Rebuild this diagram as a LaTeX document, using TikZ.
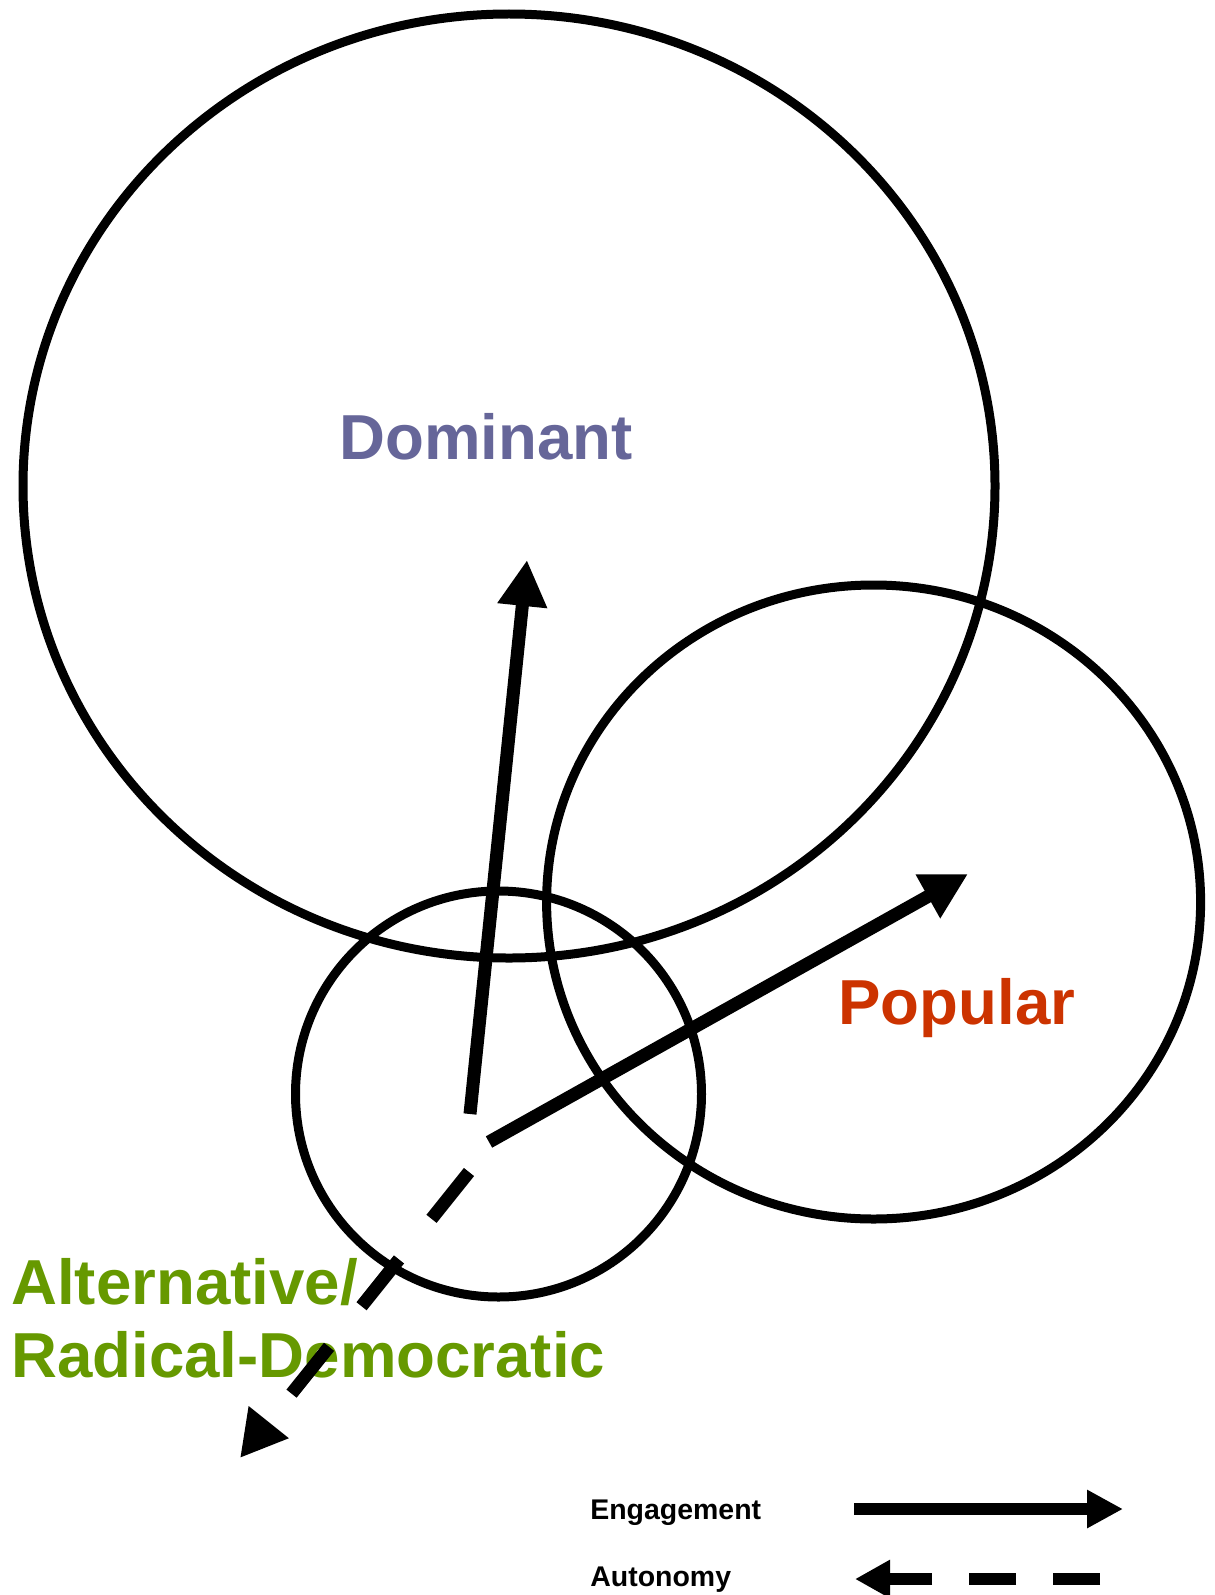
\documentclass[tikz,border=0pt]{standalone}
\usepackage{fontspec}
\setmainfont{Liberation Sans}
\usepackage{xcolor}
\usepackage{tikz}
\usetikzlibrary{
	arrows.meta,
	positioning
}
\definecolor{dominantblue}{HTML}{666699}
\definecolor{popularred}{HTML}{CC3300}
\definecolor{altgreen}{HTML}{669900}
\tikzset{
	sphere/.style={draw=black, line width=0.18cm},
	biglabel/.style={anchor=base west, inner sep=0pt, font=\bfseries\fontsize{36.2}{42}\selectfont},
	keylabel/.style={anchor=base west, inner sep=0pt, font=\bfseries\fontsize{16.2}{20}\selectfont},
	engage/.style={line width=0.26cm, -{Triangle[length=0.92cm, width=0.94cm]}},
	autonomy/.style={line width=0.26cm, dash pattern=on 1.2cm off 1.04cm, -{Triangle[length=0.92cm, width=0.96cm]}}
}

\begin{document}
\begin{tikzpicture}[x=0.02cm, y=-0.02cm]
	\useasboundingbox (0,0) rectangle (1214,1595);
	% labels
	\node[biglabel, text=dominantblue] (dom) at (339,459) {Dominant};
	\node[biglabel, text=popularred] (pop) at (838,1024) {Popular};
	\node[biglabel, text=altgreen] (alt1) at (11,1304) {Alternative/};
	\node[biglabel, text=altgreen] (alt2) at (11,1377) {Radical-Democratic};
	% spheres
	\draw[sphere] (509,486) ellipse [x radius=486, y radius=472];
	\draw[sphere] (873.6,902) ellipse [x radius=327, y radius=317];
	\draw[sphere] (498.5,1094) circle [radius=203];
	% directions
	\coordinate (upS) at (470,1114);
	\coordinate (upE) at (527,560);
	\coordinate (rtS) at (489,1142);
	\coordinate (rtE) at (968,874);
	\coordinate (dnS) at (469,1172);
	\coordinate (dnE) at (240,1458);
	\draw[engage] (upS) -- (upE);
	\draw[engage] (rtS) -- (rtE);
	\draw[autonomy] (dnS) -- (dnE);
	% key
	\node[keylabel] (keyE) at (590,1519) {Engagement};
	\node[keylabel] (keyA) at (590,1586) {Autonomy};
	\coordinate (kE1) at (854,1509);
	\coordinate (kE2) at (1123,1509);
	\coordinate (kA1) at (1100,1579);
	\coordinate (kA2) at (855,1579);
	\draw[line width=0.24cm, -{Triangle[length=0.72cm, width=0.72cm]}] (kE1) -- (kE2);
	\draw[line width=0.24cm, dash pattern=on 0.94cm off 0.74cm, -{Triangle[length=0.7cm, width=0.72cm]}] (kA1) -- (kA2);
\end{tikzpicture}
\end{document}
